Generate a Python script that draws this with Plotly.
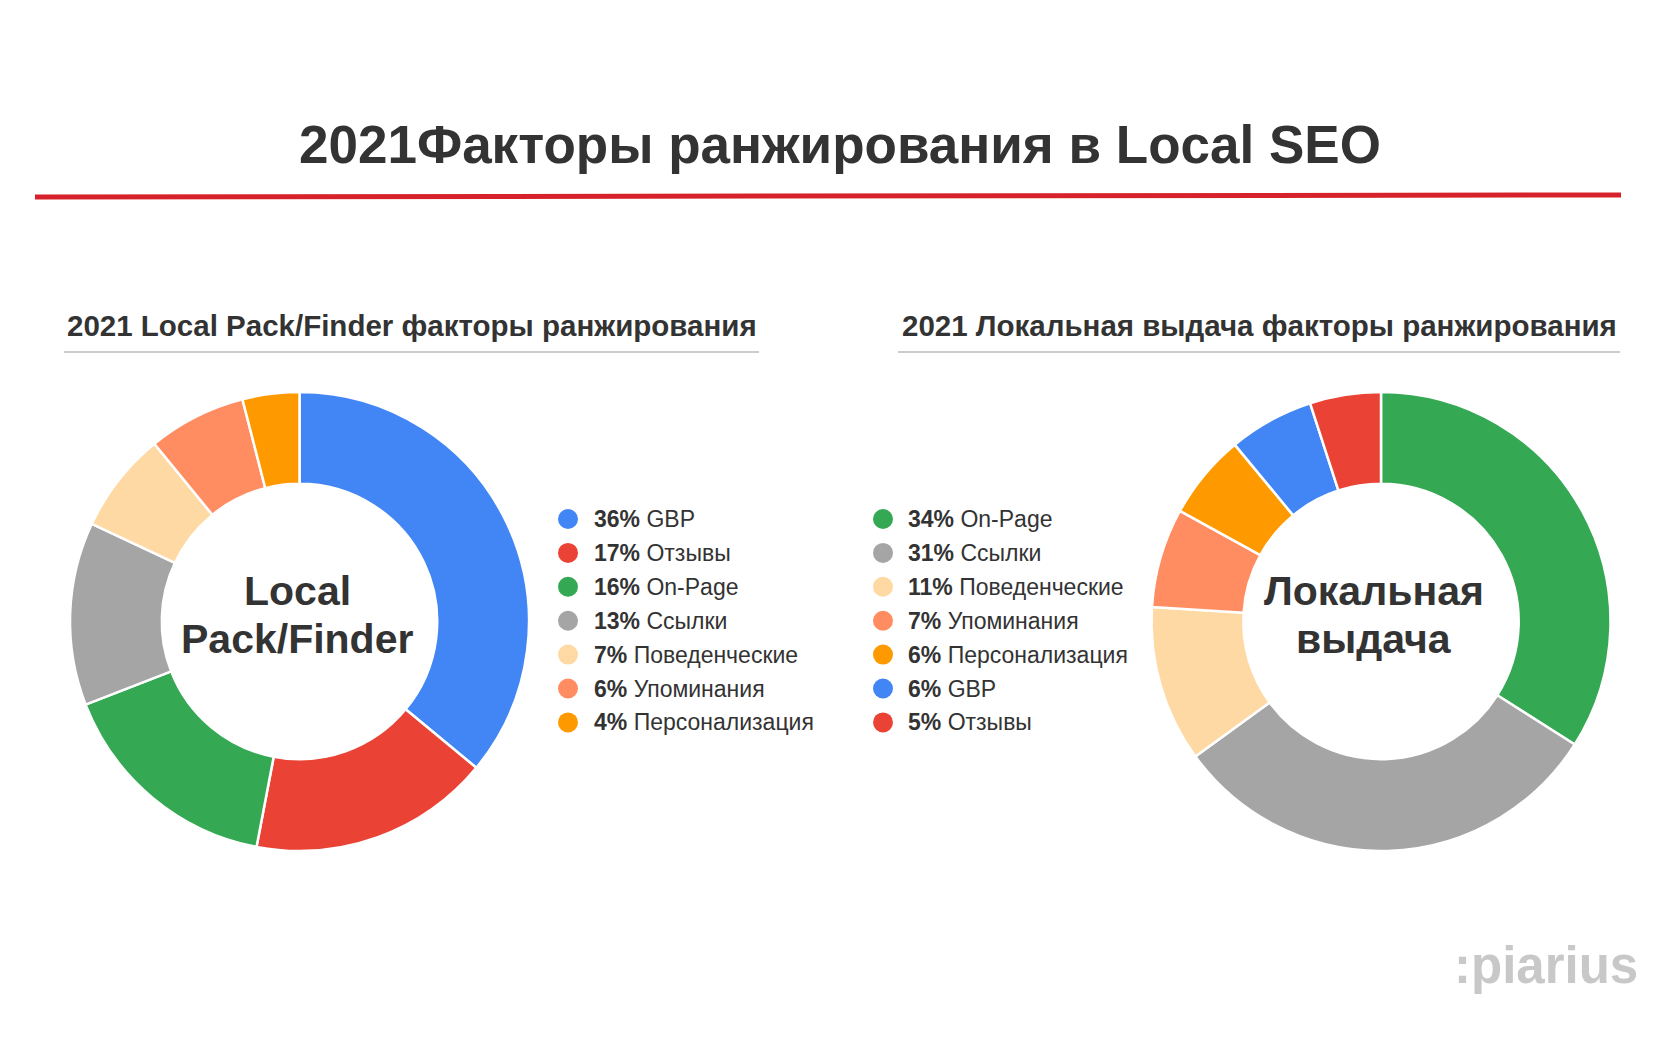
import plotly.graph_objects as go

W, H = 1680, 1050

# ---------------- data ----------------
title_text = "2021Факторы ранжирования в Local SEO"

left_title = "2021 Local Pack/Finder факторы ранжирования"
left_center = ["Local", "Pack/Finder"]
left_labels = ["GBP", "Отзывы", "On-Page", "Ссылки", "Поведенческие", "Упоминания", "Персонализация"]
left_pct = [36, 17, 16, 13, 7, 6, 4]                      # legend text
left_values = [36.0, 17.0, 16.1, 12.9, 7.1, 6.9, 4.0]       # slice sizes
left_colors = ["#4285F4", "#EA4335", "#34A853", "#A5A5A5", "#FFD9A3", "#FF8D61", "#FF9900"]

right_title = "2021 Локальная выдача факторы ранжирования"
right_center = ["Локальная", "выдача"]
right_labels = ["On-Page", "Ссылки", "Поведенческие", "Упоминания", "Персонализация", "GBP", "Отзывы"]
right_pct = [34, 31, 11, 7, 6, 6, 5]
right_values = [34, 31, 11, 7, 6, 6, 5]
right_colors = ["#34A853", "#A5A5A5", "#FFD9A3", "#FF8D61", "#FF9900", "#4285F4", "#EA4335"]

watermark = ":piarius"

FONT = "Liberation Sans, Arial, Helvetica, sans-serif"
DARK = "#333333"


def px(x):
    return x / W


def py(y):
    return 1 - y / H


fig = go.Figure()

# ---------------- pies ----------------
R = 229.5
pies = [
    (left_labels, left_values, left_colors, 299.5, 621.5),
    (right_labels, right_values, right_colors, 1381, 621.5),
]
for labels, values, colors, cx, cy in pies:
    fig.add_trace(go.Pie(
        labels=labels,
        values=values,
        marker=dict(colors=colors, line=dict(color="white", width=2.5)),
        hole=0.6,
        sort=False,
        direction="clockwise",
        rotation=0,
        textinfo="none",
        hoverinfo="label+percent",
        showlegend=False,
        domain=dict(x=[px(cx - R), px(cx + R)], y=[py(cy + R), py(cy - R)]),
    ))

annotations = []
shapes = []

# ---------------- main title ----------------
annotations.append(dict(
    text=f"<b>{title_text}</b>", x=px(840), y=py(145), xref="paper", yref="paper",
    xanchor="center", yanchor="middle", showarrow=False,
    font=dict(family=FONT, size=53, color=DARK),
))
shapes.append(dict(type="line", xref="paper", yref="paper",
                   x0=px(35), y0=py(197), x1=px(1621), y1=py(195),
                   line=dict(color="#D7222B", width=5)))

# ---------------- subtitles ----------------
for txt, x0, x1 in [(left_title, 64, 759), (right_title, 898, 1620)]:
    annotations.append(dict(
        text=f"<b>{txt}</b>", x=px((x0 + x1) / 2), y=py(325), xref="paper", yref="paper",
        xanchor="center", yanchor="middle", showarrow=False,
        font=dict(family=FONT, size=29.5, color=DARK),
    ))
    shapes.append(dict(type="line", xref="paper", yref="paper",
                       x0=px(x0), y0=py(352), x1=px(x1), y1=py(352),
                       line=dict(color="#CCCCCC", width=2)))

# ---------------- centre labels ----------------
for lines, cx in [(left_center, 297), (right_center, 1374)]:
    for i, ln in enumerate(lines):
        annotations.append(dict(
            text=f"<b>{ln}</b>", x=px(cx), y=py(591 + 48 * i), xref="paper", yref="paper",
            xanchor="center", yanchor="middle", showarrow=False,
            font=dict(family=FONT, size=41, color=DARK),
        ))

# ---------------- custom legends ----------------
ROW0, STEP, DOT_R = 519, 33.9, 10
for labels, pcts, colors, dot_x, text_x in [
    (left_labels, left_pct, left_colors, 568, 592),
    (right_labels, right_pct, right_colors, 883, 906),
]:
    for i, (lab, val, col) in enumerate(zip(labels, pcts, colors)):
        yc = ROW0 + STEP * i
        shapes.append(dict(type="circle", xref="paper", yref="paper",
                           x0=px(dot_x - DOT_R), x1=px(dot_x + DOT_R),
                           y0=py(yc + DOT_R), y1=py(yc - DOT_R),
                           fillcolor=col, line=dict(width=0)))
        annotations.append(dict(
            text=f"<b>{val}%</b> {lab}", x=px(text_x), y=py(yc), xref="paper", yref="paper",
            xanchor="left", yanchor="middle", showarrow=False,
            font=dict(family=FONT, size=23, color=DARK),
        ))

# ---------------- watermark ----------------
annotations.append(dict(
    text=f"<b>{watermark}</b>", x=px(1640), y=py(965), xref="paper", yref="paper",
    xanchor="right", yanchor="middle", showarrow=False,
    font=dict(family=FONT, size=51, color="#C8C8C8"),
))

fig.update_layout(
    width=W, height=H,
    margin=dict(l=0, r=0, t=0, b=0),
    paper_bgcolor="white", plot_bgcolor="white",
    annotations=annotations, shapes=shapes,
    showlegend=False,
)

fig.write_html("out.html", config={"displayModeBar": False})
